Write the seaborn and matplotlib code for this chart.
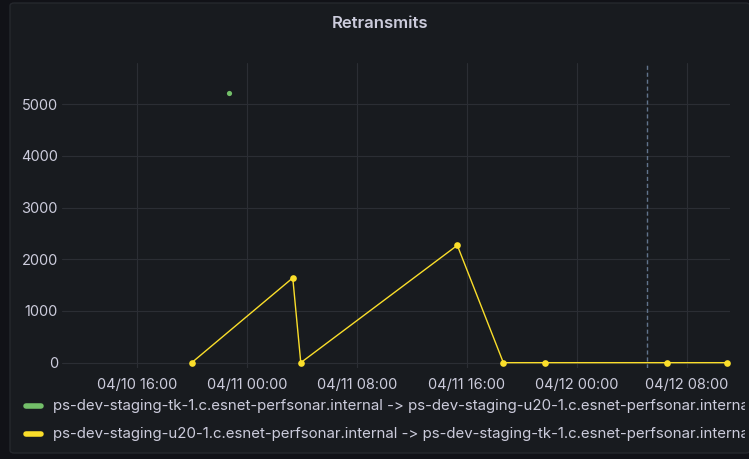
import pandas as pd
import matplotlib
matplotlib.use('Agg')
import matplotlib.pyplot as plt
import matplotlib.dates as mdates
from matplotlib.patches import FancyBboxPatch
import seaborn as sns

# --- 資料 ---
green_times = ['2023-04-10 22:41']
green_values = [5210]

yellow_times = ['2023-04-10 20:00', '2023-04-11 03:21', '2023-04-11 03:56', '2023-04-11 15:19',
                '2023-04-11 18:40', '2023-04-11 21:40', '2023-04-12 06:35', '2023-04-12 10:57']
yellow_values = [0, 1640, 0, 2270, 0, 0, 0, 0]

marker_time = '2023-04-12 05:05'

series_labels = ['ps-dev-staging-tk-1.c.esnet-perfsonar.internal -> ps-dev-staging-u20-1.c.esnet-perfsonar.internal',
                 'ps-dev-staging-u20-1.c.esnet-perfsonar.internal -> ps-dev-staging-tk-1.c.esnet-perfsonar.internal']
series_colors = ['#73bf69', '#fade2a']

x_range = ('2023-04-10 10:34', '2023-04-12 11:09')
y_range = (-103, 5797)
y_ticks = [0, 1000, 2000, 3000, 4000, 5000]

# --- 樣式 ---
sns.set_theme(style='dark')
plt.rcParams['font.family'] = ['Inter', 'DejaVu Sans']
text_color = '#ccccdc'
outer_bg = '#111217'
panel_bg = '#181b1f'
grid_color = '#2b2e34'

fig = plt.figure(figsize=(7.49, 4.59), dpi=100, facecolor=outer_bg)
fig.patches.append(FancyBboxPatch((10 / 749, 6 / 459), 740 / 749, 450 / 459,
                                  boxstyle='round,pad=0,rounding_size=0.006',
                                  transform=fig.transFigure, facecolor=panel_bg,
                                  edgecolor='#25282d', linewidth=1, zorder=-10))

ax = fig.add_axes([62 / 749, 1 - 368 / 459, (730 - 62) / 749, (368 - 63) / 459])
ax.set_facecolor('none')

yellow_df = pd.DataFrame({'time': pd.to_datetime(yellow_times), 'value': yellow_values})
green_df = pd.DataFrame({'time': pd.to_datetime(green_times), 'value': green_values})

sns.lineplot(data=yellow_df, x='time', y='value', ax=ax, color=series_colors[1], linewidth=1.0,
             marker='o', markersize=4.8, markeredgewidth=0, zorder=3)
sns.scatterplot(data=green_df, x='time', y='value', ax=ax, color=series_colors[0], s=14,
                linewidth=0, zorder=3)

ax.axvline(pd.to_datetime(marker_time), color='#61748c', linestyle=(0, (3, 2)), linewidth=1.0, zorder=2)

ax.set_xlim(pd.to_datetime(x_range[0]), pd.to_datetime(x_range[1]))
ax.set_ylim(*y_range)
ax.set_yticks(y_ticks)
ax.xaxis.set_major_locator(mdates.HourLocator(byhour=[0, 8, 16]))
ax.xaxis.set_major_formatter(mdates.DateFormatter('%m/%d %H:%M'))
ax.grid(True, color=grid_color, linewidth=0.8)
ax.tick_params(axis='both', colors=text_color, labelsize=10.5, length=0)
ax.tick_params(axis='x', pad=7)
ax.tick_params(axis='y', pad=3)
ax.set_xlabel('')
ax.set_ylabel('')
for spine in ax.spines.values():
    spine.set_visible(False)

fig.text(380 / 749, 1 - 23 / 459, 'Retransmits', ha='center', va='center',
         color=text_color, fontsize=12, fontweight='semibold')

# --- 圖例 (右側會被面板裁切) ---
leg_ax = fig.add_axes([0, 0, 745 / 749, 1])
leg_ax.set_axis_off()
leg_ax.set_xlim(0, 745)
leg_ax.set_ylim(459, 0)
for label, color, y in zip(series_labels, series_colors, [406, 434]):
    leg_ax.plot([26, 41], [y, y], color=color, linewidth=4, solid_capstyle='round')
    leg_ax.text(53, y, label, color=text_color, fontsize=10.8, va='center', ha='left', clip_on=True)

fig.savefig('out.png', dpi=100, facecolor=outer_bg)
